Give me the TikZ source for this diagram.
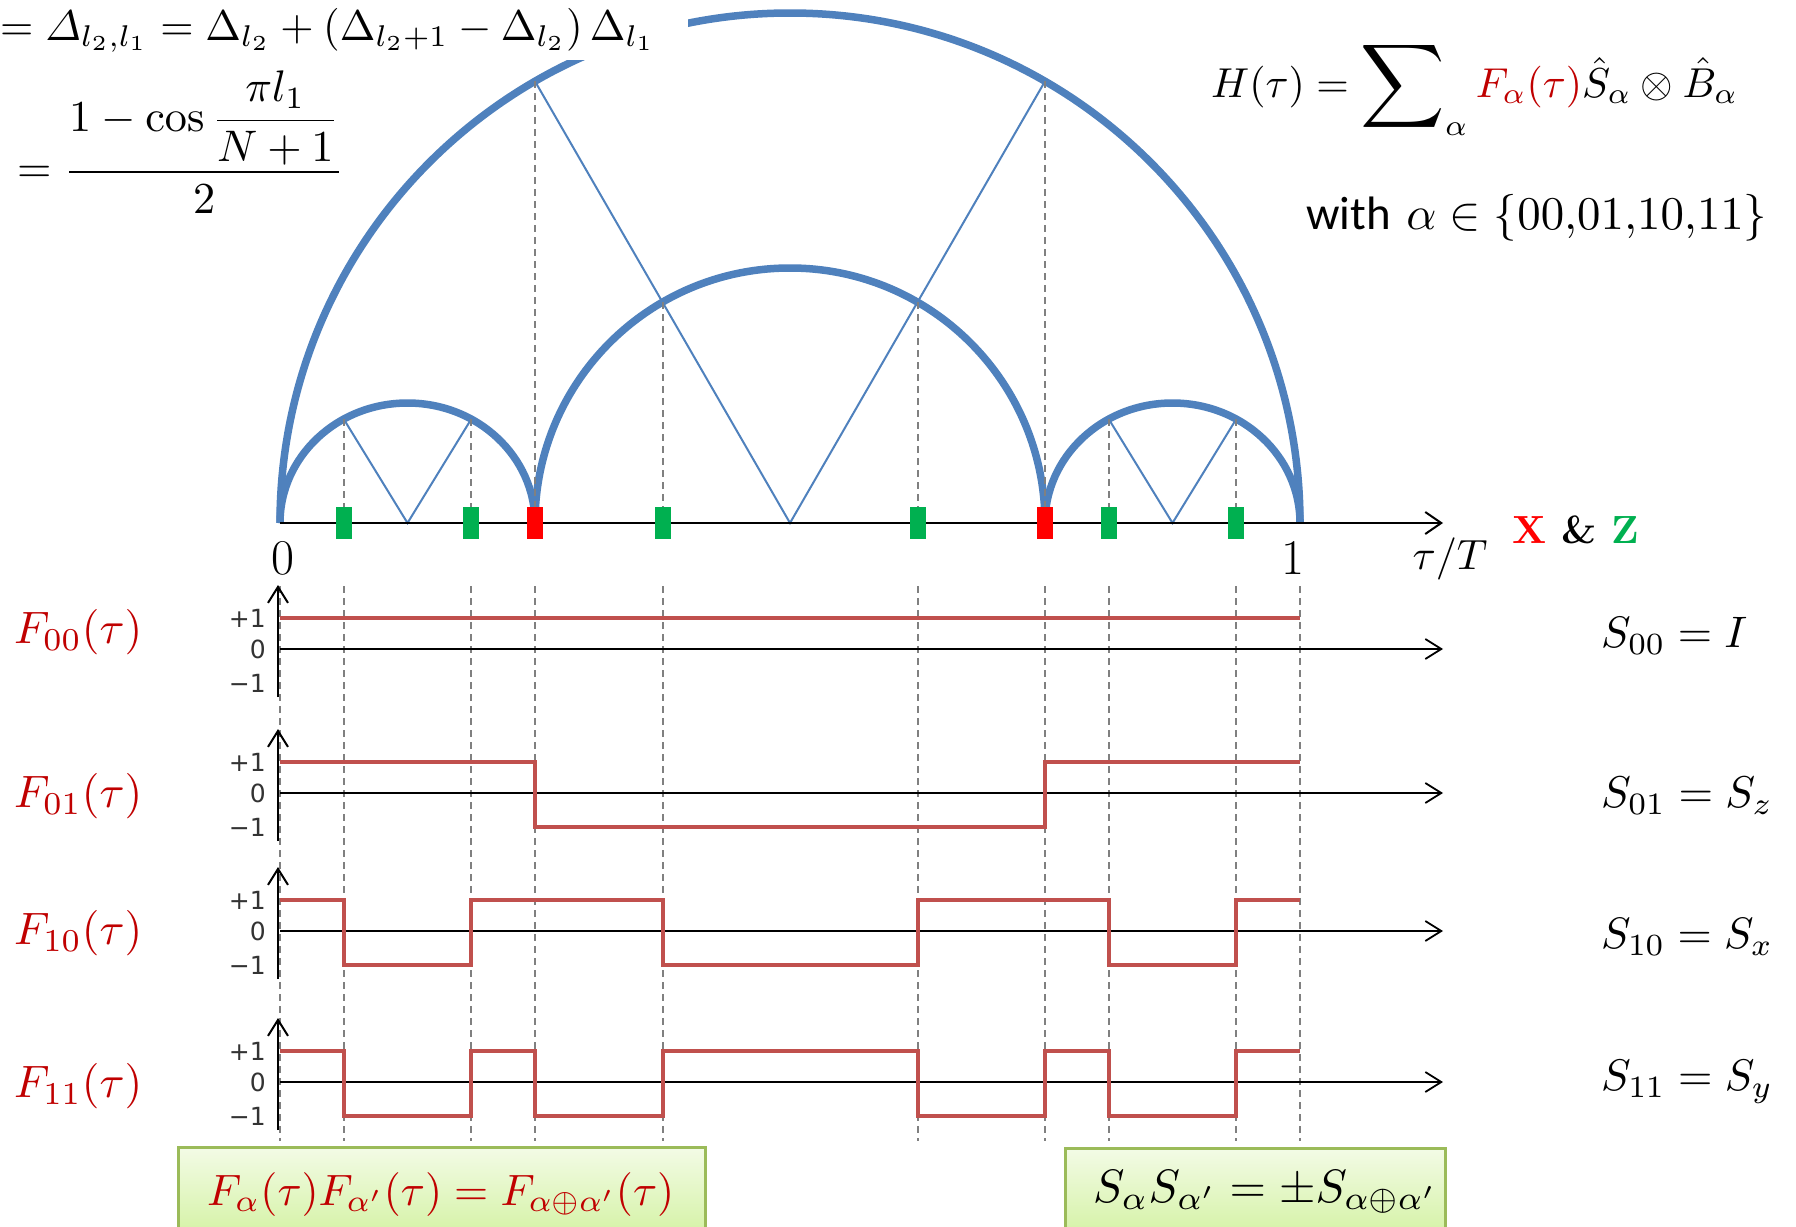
\documentclass[tikz,border=0pt]{standalone}
\usepackage[no-math]{fontspec}
\usepackage{amsmath}
\usepackage{graphicx}
\usetikzlibrary{arrows.meta}
\newfontfamily\carl{Carlito}
\newfontfamily\dejavu{DejaVu Sans}
\definecolor{arcblue}{HTML}{4F81BD}
\definecolor{fred}{HTML}{C00000}
\definecolor{stepred}{HTML}{C0504D}
\definecolor{mgreen}{HTML}{00B050}
\definecolor{mred}{HTML}{FF0000}
\definecolor{boxborder}{HTML}{9BBB59}
\definecolor{boxtop}{HTML}{F3FBE6}
\definecolor{boxbot}{HTML}{D3F2A2}
\newcommand{\bigsum}{\mathop{\vcenter{\hbox{\scalebox{1.4}{$\displaystyle\sum$}}}}\nolimits}
\begin{document}
\begin{tikzpicture}[x=1pt,y=-1pt,
  arcline/.style={draw=arcblue,line width=7.5pt},
  vline/.style={draw=arcblue,line width=2pt},
  guide/.style={draw=black!50,line width=2pt,dash pattern=on 7pt off 5pt},
  mainaxis/.style={draw=black,line width=2.5pt,-{Straight Barb[length=16pt,width=22pt,line width=2pt]}},
  paxis/.style={draw=black,line width=1.6pt,-{Straight Barb[length=16pt,width=20pt,line width=1.8pt]}},
  yaxis/.style={draw=black,line width=2.2pt,-{Straight Barb[length=16pt,width=20pt,line width=2pt]}},
  stepline/.style={draw=stepred,line width=4pt},
  tick/.style={font=\dejavu\fontsize{25}{28}\selectfont,text=black!80,anchor=east,inner sep=0pt},
  lab/.style={inner sep=0pt},
  gbox/.style={top color=boxtop,bottom color=boxbot},
  gborder/.style={draw=boxborder,line width=3pt}]
\useasboundingbox (0,0) rectangle (1796,1226);
\fill[white] (0,0) rectangle (1796,1226);

% ---------------- arcs ----------------
\draw[arcline] (280,523) arc[start angle=180,end angle=360,radius=510];
\draw[arcline] (535,523) arc[start angle=180,end angle=360,radius=255];
\draw[arcline] (280,523) arc[start angle=180,end angle=360,x radius=127.5,y radius=120];
\draw[arcline] (1045,523) arc[start angle=180,end angle=360,x radius=127.5,y radius=120];

% points on arcs
\coordinate (b1) at (535,81.3);
\coordinate (b2) at (1045,81.3);
\coordinate (m1) at (662.5,302.2);
\coordinate (m2) at (917.5,302.2);
\coordinate (s1) at (343.75,419.1);
\coordinate (s2) at (471.25,419.1);
\coordinate (s3) at (1108.75,419.1);
\coordinate (s4) at (1236.25,419.1);
\coordinate (vc) at (790,523);
\coordinate (vl) at (407.5,523);
\coordinate (vr) at (1172.5,523);

% V lines
\draw[vline] (b1) -- (vc) -- (b2);
\draw[vline] (s1) -- (vl) -- (s2);
\draw[vline] (s3) -- (vr) -- (s4);

% upper guides
\foreach \p in {b1,b2,m1,m2,s1,s2,s3,s4}
  \draw[guide] (\p) -- (\p |- vc);

% lower guides
\foreach \x in {280,343.75,471.25,535,662.5,917.5,1045,1108.75,1236.25,1300}
  \draw[guide] (\x,586) -- (\x,1141);

% main axis
\coordinate (ax0) at (280,523);
\coordinate (ax1) at (1443,523);
\draw[mainaxis] (ax0) -- (ax1);

% markers
\foreach \x in {343.75,471.25,662.5,917.5,1108.75,1236.25}
  \fill[mgreen] (\x-8,507) rectangle (\x+8,539);
\foreach \x in {535,1045}
  \fill[mred] (\x-8,507) rectangle (\x+8,539);

% white box behind top equation
\fill[white] (0,0) rectangle (688,60);
\node[lab,anchor=base west] (eqtop) at (0,40)
  {\resizebox{655pt}{!}{$=\varDelta_{l_2,l_1}=\Delta_{l_2}+(\Delta_{l_2+1}-\Delta_{l_2})\,\Delta_{l_1}$}};
\node[lab,anchor=west] (eqfrac) at (17,142)
  {\resizebox{327pt}{!}{$\displaystyle=\frac{1-\cos\dfrac{\pi l_1}{N+1}}{2}$}};

\node[lab,anchor=west] (eqH) at (1211,88)
  {\resizebox{527pt}{!}{$H(\tau)=\bigsum_{\alpha}\textcolor{fred}{F_\alpha(\tau)}\hat S_\alpha\otimes\hat B_\alpha$}};
\node[lab,anchor=west] (eqwith) at (1306,218)
  {\resizebox{461pt}{!}{{\carl with} $\alpha\in\{00{,}01{,}10{,}11\}$}};

% axis labels
\node[lab] (l0) at (283,558) {\fontsize{50}{52}\selectfont 0};
\node[lab] (l1) at (1293,558) {\fontsize{50}{52}\selectfont 1};
\node[lab] (ltau) at (1450,559) {\resizebox{75pt}{!}{$\tau/T$}};
\node[lab,anchor=base west] (lxz) at (1512,543)
  {\resizebox{127pt}{!}{\bfseries\textcolor{mred}{X} \& \textcolor{mgreen}{Z}}};

% ---------------- panels ----------------
\foreach \z/\n in {649/p1,793/p2,931/p3,1082/p4}{
  \draw[paxis] (280,\z) -- (1443,\z);
  \draw[yaxis] (278,\z+48) -- (278,\z-64);
  \node[tick] at (266,\z-31) {+1};
  \node[tick] at (266,\z) {0};
  \node[tick] at (266,\z+34) {−1};
}

% F00
\draw[stepline] (280,618) -- (1300,618);
% F01
\draw[stepline] (280,762) -- (535,762) -- (535,827) -- (1045,827) -- (1045,762) -- (1300,762);
% F10
\draw[stepline] (280,900) -- (343.75,900) -- (343.75,965) -- (471.25,965) -- (471.25,900)
  -- (662.5,900) -- (662.5,965) -- (917.5,965) -- (917.5,900) -- (1108.75,900)
  -- (1108.75,965) -- (1236.25,965) -- (1236.25,900) -- (1300,900);
% F11
\draw[stepline] (280,1051) -- (343.75,1051) -- (343.75,1116) -- (471.25,1116) -- (471.25,1051)
  -- (535,1051) -- (535,1116) -- (662.5,1116) -- (662.5,1051) -- (917.5,1051)
  -- (917.5,1116) -- (1045,1116) -- (1045,1051) -- (1108.75,1051) -- (1108.75,1116)
  -- (1236.25,1116) -- (1236.25,1051) -- (1300,1051);

% F labels
\node[lab,anchor=west] (f00) at (14,632) {\resizebox{128pt}{!}{\color{fred}$F_{00}(\tau)$}};
\node[lab,anchor=west] (f01) at (14,796) {\resizebox{128pt}{!}{\color{fred}$F_{01}(\tau)$}};
\node[lab,anchor=west] (f10) at (14,933) {\resizebox{128pt}{!}{\color{fred}$F_{10}(\tau)$}};
\node[lab,anchor=west] (f11) at (14,1086) {\resizebox{128pt}{!}{\color{fred}$F_{11}(\tau)$}};

% S labels
\node[lab,anchor=west] (s00) at (1601,636) {\resizebox{146pt}{!}{$S_{00}=I$}};
\node[lab,anchor=west] (s01) at (1601,796) {\resizebox{172pt}{!}{$S_{01}=S_z$}};
\node[lab,anchor=west] (s10) at (1601,937) {\resizebox{172pt}{!}{$S_{10}=S_x$}};
\node[lab,anchor=west] (s11) at (1601,1082) {\resizebox{172pt}{!}{$S_{11}=S_y$}};

% ---------------- bottom boxes ----------------
\shade[gbox] (178,1147) rectangle (705,1240);
\draw[gborder] (178,1240) -- (178,1147) -- (705,1147) -- (705,1240);
\node[lab,anchor=base west] (bx1) at (207,1205)
  {\resizebox{467pt}{!}{\color{fred}$F_\alpha(\tau)F_{\alpha'}(\tau)=F_{\alpha\oplus\alpha'}(\tau)$}};

\shade[gbox] (1065,1148) rectangle (1445,1240);
\draw[gborder] (1065,1240) -- (1065,1148) -- (1445,1148) -- (1445,1240);
\node[lab,anchor=base west] (bx2) at (1093,1202)
  {\resizebox{344pt}{!}{$S_\alpha S_{\alpha'}=\pm S_{\alpha\oplus\alpha'}$}};
\end{tikzpicture}
\end{document}
